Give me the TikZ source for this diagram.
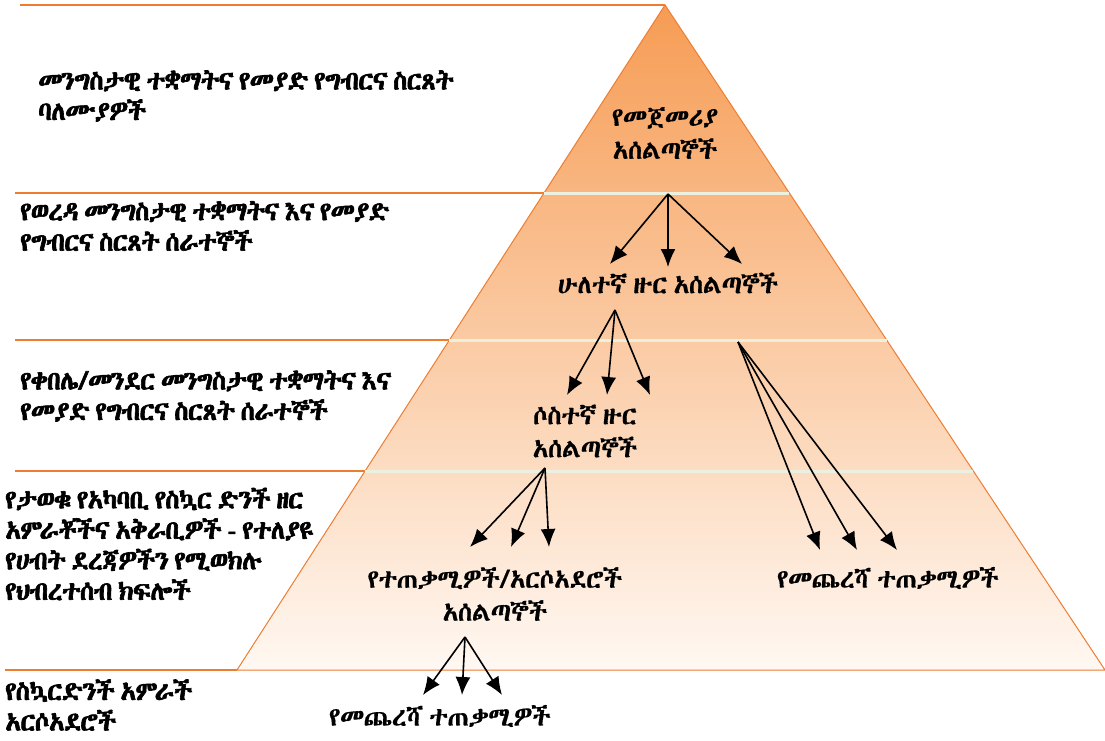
\documentclass[tikz,border=0pt]{standalone}
\usepackage{fontspec}
\IfFontExistsTF{Abyssinica SIL}{\def\ethname{Abyssinica SIL}}{%
	\IfFontExistsTF{FreeSerif}{\def\ethname{FreeSerif}}{\def\ethname{DejaVu Sans}}}
\newfontfamily\ethfont[Script = Ethiopic, WordSpace = 0.5, LetterSpace = -3, FakeBold = 2.4]{\ethname}
\newfontfamily\ethlight[Script = Ethiopic, WordSpace = 0.55, LetterSpace = -2, FakeBold = 0.5]{\ethname}
\usetikzlibrary{arrows.meta, calc}

\definecolor{pyrtop}{RGB}{246,156,84}
\definecolor{pyrbottom}{RGB}{255,248,242}
\definecolor{pyredge}{RGB}{237,125,49}
\definecolor{bandline}{RGB}{236,240,222}

\begin{document}
\begin{tikzpicture}[> = {Latex[length = 18pt, width = 15pt]}, x = 1pt, y = -1pt,
	level/.style = {font = \ethfont\fontsize{26}{30.5}\selectfont, align = left, anchor = west, inner sep = 0pt},
	trainer/.style = {font = \ethlight\fontsize{26}{33}\selectfont, align = center, inner sep = 0pt},
	flow/.style = {->, line width = 1.6pt}]

	\useasboundingbox (0, 0) rectangle (1105, 740);

	% Pyramid
	
	\coordinate (apex) at (665, 5);
	\coordinate (baseL) at (237, 670);
	\coordinate (baseR) at (1105, 670);
	\shade [top color = pyrtop, bottom color = pyrbottom] (apex) -- (baseR) -- (baseL) -- cycle;
	\draw [pyredge, line width = 1pt] (apex) -- (baseR) -- (baseL) -- cycle;
	
	% Level borders
	
	\draw [pyredge, line width = 2pt] (20, 5) -- (apex);
	\draw [pyredge, line width = 2pt] (5, 670) -- (baseL);
	\foreach \t/\name in {0.2827/s1, 0.5038/s2, 0.7008/s3} {
		\coordinate (\name L) at ($(apex)!\t!(baseL)$);
		\coordinate (\name R) at ($(apex)!\t!(baseR)$);
		\draw [pyredge, line width = 2pt] (15, 0 |- \name L) -- (\name L);
		\draw [bandline, line width = 3pt] (\name L) -- (\name R);
	}
	
	% Level labels
	
	\node [level] (lvl1) at (38, 96) {መንግስታዊ ተቋማትና የመያድ የግብርና ስርጸት\\ባለሙያዎች};
	\node [level] (lvl2) at (20, 226) {የወረዳ መንግስታዊ ተቋማትና እና የመያድ\\የግብርና ስርጸት ሰራተኞች};
	\node [level] (lvl3) at (20, 396) {የቀበሌ/መንደር መንግስታዊ ተቋማትና እና\\የመያድ የግብርና ስርጸት ሰራተኞች};
	\node [level] (lvl4) at (5, 544) {የታወቁ የአካባቢ የስኳር ድንች ዘር\\አምራቾችና አቅራቢዎች - የተለያዩ\\የሀብት ደረጃዎችን የሚወክሉ\\የህብረተሰብ ክፍሎች};
	\node [level] (lvl5) at (5, 705) {የስኳርድንች አምራች\\አርሶአደሮች};
	
	% Trainers
	
	\node [trainer] (first) at (665, 133) {የመጀመሪያ\\አሰልጣኞች};
	\node [trainer] (second) at (668, 283) {ሁለተኛ ዙር አሰልጣኞች};
	\node [trainer] (third) at (585, 431) {ሶስተኛ ዙር\\አሰልጣኞች};
	\node [trainer] (farmer) at (495, 594) {የተጠቃሚዎች/አርሶአደሮች\\አሰልጣኞች};
	\node [trainer] (endA) at (888, 578) {የመጨረሻ ተጠቃሚዎች};
	\node [trainer] (endB) at (440, 716) {የመጨረሻ ተጠቃሚዎች};
	
	% Arrows
	
	\coordinate (from1) at (668, 194);
	\coordinate (from2) at (615, 310);
	\coordinate (from3) at (738, 342);
	\coordinate (from4) at (545, 468);
	\coordinate (from5) at (465, 637);
	
	\coordinate (to11) at (610, 264);
	\coordinate (to12) at (668, 267);
	\coordinate (to13) at (742, 264);
	\coordinate (to21) at (567, 395);
	\coordinate (to22) at (607, 395);
	\coordinate (to23) at (650, 395);
	\coordinate (to31) at (820, 550);
	\coordinate (to32) at (857, 550);
	\coordinate (to33) at (897, 550);
	\coordinate (to41) at (470, 547);
	\coordinate (to42) at (511, 547);
	\coordinate (to43) at (549, 547);
	\coordinate (to51) at (423, 695);
	\coordinate (to52) at (462, 695);
	\coordinate (to53) at (502, 695);
	
	\foreach \i in {1, ..., 5} {
		\foreach \j in {1, 2, 3} {
			\draw [flow] (from\i) -- (to\i\j);
		}
	}
	
\end{tikzpicture}
\end{document}
